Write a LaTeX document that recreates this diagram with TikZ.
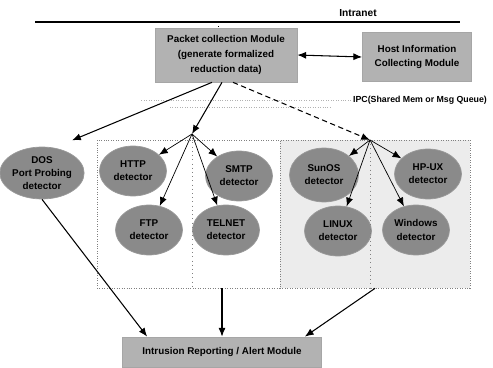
\documentclass[tikz,border=0pt]{standalone}
\usepackage{fontspec}
\setmainfont{Liberation Sans}
\usetikzlibrary{arrows.meta,shapes.geometric,positioning}
\definecolor{boxgray}{RGB}{178,178,178}
\definecolor{ovalgray}{RGB}{138,138,138}
\definecolor{grpgray}{RGB}{236,236,236}

\begin{document}
\begin{tikzpicture}[x=0.02cm,y=-0.02cm,
    modbox/.style={draw=gray!70,fill=boxgray,align=center,inner sep=1pt,
      font=\fontsize{5.6}{8.5}\selectfont\bfseries},
    detector/.style={ellipse,draw=gray!80,fill=ovalgray,align=center,inner sep=0pt,
      minimum width=1.34cm,minimum height=1.0cm,font=\fontsize{5.6}{7.5}\selectfont\bfseries},
    grpbox/.style={draw=gray,densely dotted,inner sep=0pt,minimum height=2.96cm},
    flow/.style={-{Latex[length=5pt,width=4pt]},semithick}]
    \useasboundingbox (0,0) rectangle (493,368);
    % network line
    \coordinate (netL) at (35,22);
    \coordinate (netR) at (460,22);
    \coordinate (tap) at (218,22);
    \draw[thick] (netL) -- (netR);
    \node[font=\fontsize{5.8}{7}\selectfont\bfseries] (intranet) at (358,13) {Intranet};
    % modules
    \node[modbox,minimum width=2.84cm,minimum height=1.08cm] (pcm) at (226,55)
        {Packet collection Module\\(generate formalized\\reduction data)};
    \node[modbox,minimum width=2.18cm,minimum height=0.98cm] (host) at (417,57)
        {Host Information\\Collecting Module};
    \node[modbox,minimum width=3.98cm,minimum height=0.6cm] (alert) at (222,352)
        {Intrusion Reporting / Alert Module};
    \draw[dotted] (tap) -- (tap |- pcm.north);
    \draw[{Latex[length=5pt,width=4pt]}-{Latex[length=5pt,width=4pt]},semithick] (pcm.east) -- (host.west);
    % groups
    \node[grpbox,minimum width=3.66cm] (webgrp) at (188.5,214) {};
    \node[grpbox,fill=grpgray,minimum width=3.8cm] (osgrp) at (375,214) {};
    \node[font=\fontsize{5}{6}\selectfont\bfseries,anchor=east,inner sep=1pt] (ipc) at (489,100)
        {IPC(Shared Mem or Msg Queue)};
    \coordinate (ipcA) at (140,100);
    \coordinate (ipcB) at (170,107);
    \coordinate (ipcC) at (330,107);
    \draw[gray!60,densely dotted] (ipc.west) -- (ipcA);
    \draw[gray!60,densely dotted] (ipcB) -- (ipcC);
    % detectors
    \node[detector,minimum width=1.52cm,minimum height=1.04cm] (dos) at (42,173)
        {DOS\\Port Probing\\detector};
    \node[detector] (http) at (133,171) {HTTP\\detector};
    \node[detector] (smtp) at (239,176) {SMTP\\detector};
    \node[detector] (ftp) at (149,230) {FTP\\detector};
    \node[detector] (telnet) at (226,230) {TELNET\\detector};
    \node[detector,minimum width=1.38cm,minimum height=1.08cm] (sunos) at (324,175) {SunOS\\detector};
    \node[detector] (hpux) at (428,174) {HP-UX\\detector};
    \node[detector] (linux) at (338,231) {LINUX\\detector};
    \node[detector] (windows) at (416,230) {Windows\\detector};
    % fan out from packet module
    \coordinate (webapex) at (192,134);
    \coordinate (osapex) at (370,140);
    \draw[flow] ([xshift=-0.28cm]pcm.south) -- ([yshift=8pt]dos.north east);
    \draw[flow] ([xshift=-0.08cm]pcm.south) -- (webapex);
    \draw[flow,densely dashed] ([xshift=0.14cm]pcm.south) -- (osapex);
    \draw[dotted,gray] (webapex) -- (webapex |- webgrp.south);
    \draw[dotted,gray] (osapex) -- (osapex |- osgrp.south);
    \foreach \d in {http,smtp,ftp,telnet} \draw[flow,thin] (webapex) -- (\d);
    \foreach \d in {sunos,hpux,linux,windows} \draw[flow,thin] (osapex) -- (\d);
    % reports
    \draw[flow] (dos.south) -- ([xshift=0.5cm]alert.north west);
    \draw[flow] (alert.north |- webgrp.south) -- (alert.north);
    \draw[flow] (osgrp.south) -- ([xshift=-0.34cm]alert.north east);
\end{tikzpicture}
\end{document}
